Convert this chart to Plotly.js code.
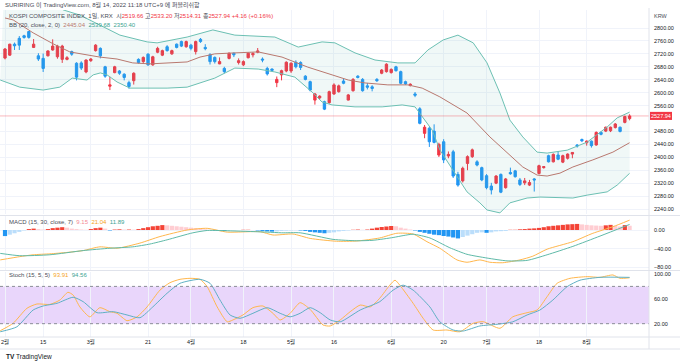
<!DOCTYPE html>
<html><head><meta charset="utf-8">
<script src="https://cdn.plot.ly/plotly-3.0.1.min.js"></script>
<style>html,body{margin:0;padding:0;background:#fff}#c{width:680px;height:364px}</style>
</head><body><div id="c"></div>
<script>
// ---- tick labels (bar index -> label) ----
const tickIndex = [0, 8, 18, 30, 39, 50, 60, 69, 81, 92, 101, 112, 122];
const tickLabels = ['2월','15','3월','21','4월','18','5월','16','6월','20','7월','18','8월'];
const priceTicks = [2240,2280,2320,2360,2400,2440,2480,2560,2600,2640,2680,2720,2760,2800];

// ---- daily candles, KOSPI (bar index 0 .. 131) ----
const openP = [2707,2716,2750,2768,2776,2789,2740,2714,2706,2714,2732,2711,2703,2703,2727,2691,2692,2664,2699,2730,
 2737,2680,2620,2662,2667,2657,2631,2637,2703,2696,2719,2686,2725,2716,2742,2720,2750,2758,2742,2747,
 2727,2765,2740,2717,2709,2689,2675,2706,2722,2693,2686,2708,2717,2725,2704,2675,2673,2631,2655,2667,
 2667,2694,2693,2651,2634,2577,2584,2572,2569,2596,2603,2636,2577,2606,2651,2641,2621,2618,2641,2660,
 2665,2662,2680,2665,2634,2622,2596,2550,2474,2490,2481,2407,2448,2404,2417,2347,2327,2381,2402,2386,
 2368,2343,2311,2320,2347,2306,2353,2358,2330,2321,2314,2333,2350,2368,2405,2386,2407,2385,2397,2410,
 2438,2455,2445,2450,2438,2477,2481,2482,2492,2493,2508,2519.66];
const highP = [2738,2751,2755,2775,2779,2790,2766,2722,2721,2731,2765,2748,2748,2713,2730,2694,2697,2703,2707,2750,
 2740,2683,2649,2683,2670,2660,2637,2663,2706,2712,2722,2714,2742,2733,2747,2733,2752,2761,2761,2751,
 2761,2769,2750,2722,2712,2709,2680,2724,2724,2706,2700,2724,2725,2738,2709,2680,2675,2650,2671,2697,
 2694,2700,2697,2654,2637,2599,2592,2575,2606,2629,2625,2645,2596,2645,2654,2645,2630,2623,2645,2673,
 2691,2675,2683,2668,2637,2629,2602,2555,2500,2495,2502,2445,2456,2418,2423,2355,2371,2406,2427,2391,
 2371,2348,2321,2345,2350,2336,2368,2361,2336,2336,2330,2336,2377,2371,2408,2412,2418,2408,2412,2415,
 2441,2458,2452,2452,2480,2480,2495,2495,2506,2495,2529,2533.20];
const lowP = [2703,2714,2732,2732,2767,2767,2738,2698,2664,2712,2730,2705,2692,2700,2714,2638,2670,2660,2695,2727,
 2706,2646,2608,2660,2655,2638,2612,2625,2690,2692,2683,2683,2722,2713,2727,2717,2737,2741,2739,2731,
 2718,2754,2731,2687,2690,2688,2660,2703,2710,2687,2682,2706,2709,2722,2694,2653,2666,2617,2638,2663,
 2661,2675,2670,2638,2604,2563,2579,2546,2566,2593,2600,2626,2576,2603,2644,2603,2610,2604,2633,2657,
 2662,2659,2665,2626,2624,2619,2586,2502,2459,2432,2443,2401,2382,2397,2336,2309,2322,2360,2398,2372,
 2326,2301,2285,2317,2289,2303,2346,2337,2311,2314,2311,2294,2347,2365,2384,2384,2391,2382,2393,2397,
 2430,2447,2436,2430,2436,2468,2478,2478,2489,2477,2505,2514.31];
const closeP = [2735,2750,2745,2747,2771,2771,2750,2704,2675,2729,2744,2744,2744,2708,2719,2648,2676,2701,2704,2747,
 2714,2651,2624,2680,2660,2647,2619,2660,2693,2709,2686,2711,2737,2730,2730,2730,2740,2744,2758,2737,
 2758,2758,2736,2696,2696,2696,2665,2722,2717,2699,2696,2722,2721,2729,2701,2658,2669,2641,2668,2694,
 2691,2680,2678,2641,2608,2596,2589,2549,2603,2624,2621,2629,2593,2641,2647,2606,2617,2613,2637,2670,
 2688,2672,2668,2629,2627,2626,2592,2505,2493,2448,2446,2440,2392,2409,2342,2314,2366,2402,2423,2376,
 2330,2306,2299,2342,2292,2333,2349,2340,2316,2327,2322,2330,2374,2371,2386,2409,2394,2405,2410,2415,
 2435,2451,2450,2436,2477,2471,2493,2493,2503,2480,2526,2527.94];

// ---- Bollinger Bands (20, close, 2) ----
const bbUpperAt = [0,5.2,9.4,12.2,15.7,19.9,24.1,29.8,31.9,38.2,43.6,48.2,56.6,61.5,66.5,69.2,73.4,77.6,82.4,86.0,88.7,91.9,95.0,98.2,101.1,103.8,105.9,108.6,111.6,113.7,117.9,122.1,126.3,128.4,131];
const bbUpper   = [2990,2930,2880,2856,2840,2809,2778,2757,2754,2772,2794,2778,2772,2741,2757,2754,2723,2701,2692,2692,2732,2763,2778,2754,2692,2599,2515,2463,2416,2413,2422,2447,2494,2522,2539.68];
const bbBasisAt = [0,1.7,5.9,10.1,13.6,17.2,19.9,23.5,26.8,30.4,34.0,38.2,40.9,44.0,48.2,53.1,58.1,63.5,68.6,72.0,75.5,80.3,84.5,87.5,91.2,96.9,101.7,105.3,108.6,111.6,113.7,116.4,119.1,123.3,127.5,131];
const bbBasis   = [2831,2825,2785,2751,2726,2716,2710,2704,2692,2689,2692,2695,2710,2720,2723,2726,2710,2679,2655,2639,2630,2624,2624,2614,2587,2537,2463,2413,2370,2345,2342,2351,2370,2392,2416,2445.04];
const bbLowerAt = [-1,3.1,8.0,11.5,14.1,17.2,18.5,20.0,21.4,23.5,26.2,29.8,34.0,38.2,40.9,44.0,48.2,53.1,56.6,60.8,64.4,66.5,68.6,73.4,79.1,83.3,86.0,87.5,89.6,91.2,94.8,96.9,99.6,101.1,103.8,105.9,109.5,112.2,119.1,122.1,126.3,128.4,131];
const bbLower   = [2639,2617,2608,2617,2645,2639,2655,2661,2655,2633,2614,2614,2614,2617,2630,2645,2676,2673,2664,2648,2602,2571,2562,2556,2556,2562,2556,2525,2484,2423,2339,2293,2259,2237,2228,2259,2274,2277,2274,2283,2293,2314,2350.40];

// ---- MACD (15, 30, close, 7) ----
const macdAt   = [-1,3.1,5.9,9.4,13.0,16.4,19.9,23.5,28.3,32.5,38.2,42.4,46.6,53.5,56.2,60.4,64.0,69.5,73.8,78.6,82.2,85.6,88.5,91.2,94.8,96.9,99.6,101.7,104.4,108.0,110.7,113.7,119.1,123.3,127.5,131];
const macdLine = [-64,-57,-53,-51,-48,-44,-36,-39,-28,-14,0,3.6,-4.5,-3.6,-10.7,-8.6,-18,-24,-23.5,-17,-7,-8.6,-25,-39,-64,-69,-64,-69,-70,-64,-56,-41,-25,-7,7,21.04];
const signalAt   = [-1,3.1,9.4,16.4,22.0,26.8,30.4,34.0,39.4,42.4,47.8,55.0,58.0,61.9,68.8,73.8,77.2,81.4,83.5,85.6,89.1,93.3,96.9,101.1,105.3,109.5,113.7,119.1,124.8,131];
const signalLine = [-50,-55,-53,-44,-39,-36,-30,-21,-6,-1,-2,-4.5,-6,-6,-20,-23,-22,-16,-12,-9,-17,-38,-52,-60,-66,-65,-53,-35,-13,11.89];
const macdHist = [-13,-10,-7,-4,-1, 2,3,2,1,2, 4,5,6,5,3, 2,1,0.5,2,4, 5,3,-1,1,1.5, 1,1,0.8,2,4,
 6,8,9,10.5,10, 9,8,7,6,5, 4,3,1.5,0.5,-1, -2,-2,-1,-0.5,0, 0.5,0.5,0,-1,-2, -3,-3.5,-3,-2,-1.5,
 -1,-0.5,-1,-2,-4, -5,-6,-7,-6,-5, -3,-2,-1,0.5,1, 0.5,1,3,5,6.5, 7.5,8.6,8,5,3, 1,-1,-4,-6,-8,
 -10,-11,-12.8,-14,-16, -18,-15,-12,-9,-6, -5,-6,-5,-3,-2.5, -2,0.5,0.5,1.5,2, 3,3.5,4.5,6,8,
 9,10,11,12,12.5, 13,12,11,10,9.5, 9,10,11,9,7.5, 10.5,9.15];

// ---- Stochastic (15, 5, 5) ----
const stochKAt = [-1,1.7,4.6,6.7,9.4,11.5,13.2,14.3,15.7,17.8,19.9,22.0,23.5,25.6,27.7,29.8,32.5,34.6,36.7,38.8,40.9,42.4,44.5,46.6,47.8,49.9,52.0,54.1,56.2,57.7,59.8,61.9,64.0,66.7,68.2,70.3,72.4,74.5,76.6,78.6,80.7,81.8,82.8,85.6,87.7,89.8,92.7,95.4,98.2,100.3,103.8,106.5,109.5,111.6,113.7,115.8,118.5,122.1,124.8,127.5,129.0,131];
const stochK   = [8.7,20.6,44.8,51.7,51,58,70.5,66,47,31,45.8,39.3,36.7,24.8,31,47,74,86,91.4,93,91.4,79.6,47,23,26,34,45.8,48.5,36.7,26,36.7,53.8,43,17.9,16.3,26,39.3,50,47,61,82,90,82,52.8,28.7,9.8,9.8,7,20.6,23.2,12.6,31,37.7,42,63.5,85,93,95.7,94.6,98.4,93,93.91];
const stochDAt = [-1,2.5,5.9,8.0,10.9,14.3,16.4,19.3,22.7,25.6,28.3,31.0,34.0,36.7,40.9,43.0,45.1,47.2,49.3,52.0,55.0,57.7,59.8,61.9,64.0,66.1,68.2,70.3,74.5,78.6,81.4,83.5,85.6,89.1,91.2,94.0,96.1,99.6,103.2,106.5,109.5,112.2,114.9,117.9,120.6,124.8,131];
const stochD   = [7,15,42,48.5,52.8,62.5,55.4,37.7,39.3,34,29.6,47,69,85,91.4,85,58,34,28.7,36.7,45.8,36.7,31,36.7,45.8,37.7,26,23,42,55.4,74,82,74,47,23,9.8,8.2,16.3,19,23,34,42,58,79.6,90,94.6,94.56];

// ---- styling ----
const UP = '#f23645', DN = '#2196f3';
const FONT = "'Liberation Sans', 'Noto Sans CJK KR', sans-serif";
const TXT = '#131722', GRID = '#f0f3fa', SEP = '#e0e3eb';
const idx = closeP.map((_, i) => i);

const histColors = macdHist.map((v, i) => {
  const p = i > 0 ? macdHist[i - 1] : v;
  if (v >= 0) return v >= p ? '#f44336' : '#ffcdd2';
  return v <= p ? '#2196f3' : '#bbdefb';
});

const traces = [
  {type:'scatter', mode:'lines', x:bbLowerAt, y:bbLower, line:{color:'#6cc0b3', width:1}, hoverinfo:'skip', xaxis:'x', yaxis:'y'},
  {type:'scatter', mode:'lines', x:bbUpperAt, y:bbUpper, line:{color:'#6cc0b3', width:1}, fill:'tonexty', fillcolor:'rgba(92,180,165,0.09)', hoverinfo:'skip', xaxis:'x', yaxis:'y'},
  {type:'scatter', mode:'lines', x:bbBasisAt, y:bbBasis, line:{color:'#b9786f', width:1}, hoverinfo:'skip', xaxis:'x', yaxis:'y'},
  {type:'candlestick', x:idx, open:openP, high:highP, low:lowP, close:closeP, xaxis:'x', yaxis:'y',
   increasing:{line:{color:UP, width:1}, fillcolor:UP}, decreasing:{line:{color:DN, width:1}, fillcolor:DN},
   whiskerwidth:0, hoverinfo:'skip'},
  {type:'bar', x:idx, y:macdHist, marker:{color:histColors, line:{width:0}}, xaxis:'x', yaxis:'y2', hoverinfo:'skip'},
  {type:'scatter', mode:'lines', x:macdAt, y:macdLine, line:{color:'#ffb74d', width:1, shape:'spline', smoothing:0.6}, xaxis:'x', yaxis:'y2', hoverinfo:'skip'},
  {type:'scatter', mode:'lines', x:signalAt, y:signalLine, line:{color:'#5fbaa8', width:1, shape:'spline', smoothing:0.6}, xaxis:'x', yaxis:'y2', hoverinfo:'skip'},
  {type:'scatter', mode:'lines', x:stochKAt, y:stochK, line:{color:'#ffb74d', width:1, shape:'spline', smoothing:0.6}, xaxis:'x', yaxis:'y3', hoverinfo:'skip'},
  {type:'scatter', mode:'lines', x:stochDAt, y:stochD, line:{color:'#5fb0c4', width:1, shape:'spline', smoothing:0.6}, xaxis:'x', yaxis:'y3', hoverinfo:'skip'}
];

const yCommon = {side:'right', anchor:'x', showgrid:true, gridcolor:GRID, gridwidth:1, zeroline:false, showline:false,
  ticks:'', tickfont:{size:5.5, color:TXT, family:FONT}, tickformat:'.2f', fixedrange:true, ticklabelstandoff:4};

const pl = 1 / 649, pt = 1 / 327; // helpers for paper placement
const layout = {
  width:680, height:364, margin:{l:0, r:31, t:10, b:27}, paper_bgcolor:'#fff', plot_bgcolor:'#fff',
  showlegend:false, bargap:0.12, font:{family:FONT, size:6, color:TXT},
  xaxis:{range:[-1.05, 135.07], anchor:'y3', tickvals:tickIndex, ticktext:tickLabels, showgrid:true, gridcolor:GRID,
    zeroline:false, showline:false, ticks:'', tickfont:{size:5.5, color:TXT, family:FONT}, rangeslider:{visible:false}, fixedrange:true},
  yaxis:Object.assign({}, yCommon, {domain:[0.3761, 1], range:[2224.5, 2855.7], tickvals:priceTicks}),
  yaxis2:Object.assign({}, yCommon, {domain:[0.2049, 0.3700], range:[-85.56, 29.95], tickvals:[-80,-40,0]}),
  yaxis3:Object.assign({}, yCommon, {domain:[0, 0.1988], range:[-1.45, 103.2], tickvals:[20,60,100], showgrid:false}),
  shapes:[
    {type:'rect', xref:'paper', yref:'y3', x0:0, x1:1, y0:20, y1:80, fillcolor:'#e9d6fb', line:{width:0}, layer:'below'},
    {type:'line', xref:'paper', yref:'y3', x0:0, x1:1, y0:80, y1:80, line:{color:'#8a8d96', width:1, dash:'dot'}},
    {type:'line', xref:'paper', yref:'y3', x0:0, x1:1, y0:20, y1:20, line:{color:'#8a8d96', width:1, dash:'dot'}},
    {type:'line', xref:'paper', yref:'y', x0:0, x1:1, y0:2527.94, y1:2527.94, line:{color:'rgba(242,54,69,0.35)', width:1}},
    {type:'line', xref:'paper', yref:'paper', x0:0, x1:680*pl, y0:(337-215.5)*pt, y1:(337-215.5)*pt, line:{color:SEP, width:1}},
    {type:'line', xref:'paper', yref:'paper', x0:0, x1:680*pl, y0:(337-270.5)*pt, y1:(337-270.5)*pt, line:{color:SEP, width:1}},
    {type:'line', xref:'paper', yref:'paper', x0:0, x1:680*pl, y0:0, y1:0, line:{color:SEP, width:1}},
    {type:'line', xref:'paper', yref:'paper', x0:0, x1:680*pl, y0:-12*pt, y1:-12*pt, line:{color:SEP, width:1}},
    {type:'line', xref:'paper', yref:'paper', x0:1, x1:1, y0:-12*pt, y1:(337-8)*pt, line:{color:SEP, width:1}},
    {type:'rect', xref:'paper', yref:'y', x0:1.0015, x1:672*pl, y0:2515.5, y1:2540.5, fillcolor:UP, line:{width:0}}
  ],
  annotations:[
    {xref:'paper', yref:'paper', x:3*pl, y:(337-5)*pt, xanchor:'left', yanchor:'middle', showarrow:false,
     text:'SURIRING 이 TradingView.com, 8월 14, 2022 11:18 UTC+9 에 퍼블리쉬함', font:{size:6, color:'#4a4d57'}},
    {xref:'paper', yref:'paper', x:7*pl, y:(337-16)*pt, xanchor:'left', yanchor:'middle', showarrow:false,
     text:'KOSPI COMPOSITE INDEX, 1일, KRX  시<span style="color:#f23645">2519.66</span> 고<span style="color:#f23645">2533.20</span> 저<span style="color:#f23645">2514.31</span> 종<span style="color:#f23645">2527.94 +4.16 (+0.16%)</span>',
     font:{size:6, color:'#4a4d57'}},
    {xref:'paper', yref:'paper', x:7*pl, y:(337-25)*pt, xanchor:'left', yanchor:'middle', showarrow:false,
     text:'BB (20, close, 2, 0)  <span style="color:#b9786f">2445.04</span>  <span style="color:#3da392">2539.68</span>  <span style="color:#3da392">2350.40</span>',
     font:{size:6, color:'#4a4d57'}},
    {xref:'paper', yref:'paper', x:7*pl, y:(337-222)*pt, xanchor:'left', yanchor:'middle', showarrow:false,
     text:'MACD (15, 30, close, 7)  <span style="color:#f48a95">9.15</span>  <span style="color:#f5a524">21.04</span>  <span style="color:#3da392">11.89</span>',
     font:{size:6, color:'#4a4d57'}},
    {xref:'paper', yref:'paper', x:7*pl, y:(337-275)*pt, xanchor:'left', yanchor:'middle', showarrow:false,
     text:'Stoch (15, 5, 5)  <span style="color:#f5a524">93.91</span>  <span style="color:#3da392">94.56</span>',
     font:{size:6, color:'#4a4d57'}},
    {xref:'paper', yref:'paper', x:661*pl, y:(337-16)*pt, xanchor:'center', yanchor:'middle', showarrow:false,
     text:'KRW', font:{size:5.5, color:'#4a4d57'}},
    {xref:'paper', yref:'y', x:661*pl, y:2527.94, xanchor:'center', yanchor:'middle', showarrow:false,
     text:'2527.94', font:{size:5.5, color:'#ffffff'}},
    {xref:'paper', yref:'paper', x:4*pl, y:(337-357)*pt, xanchor:'left', yanchor:'middle', showarrow:false,
     text:'<b>TV</b> TradingView', font:{size:6.5, color:'#131722'}}
  ]
};

Plotly.newPlot('c', traces, layout, {staticPlot:true, displayModeBar:false});
</script></body></html>
